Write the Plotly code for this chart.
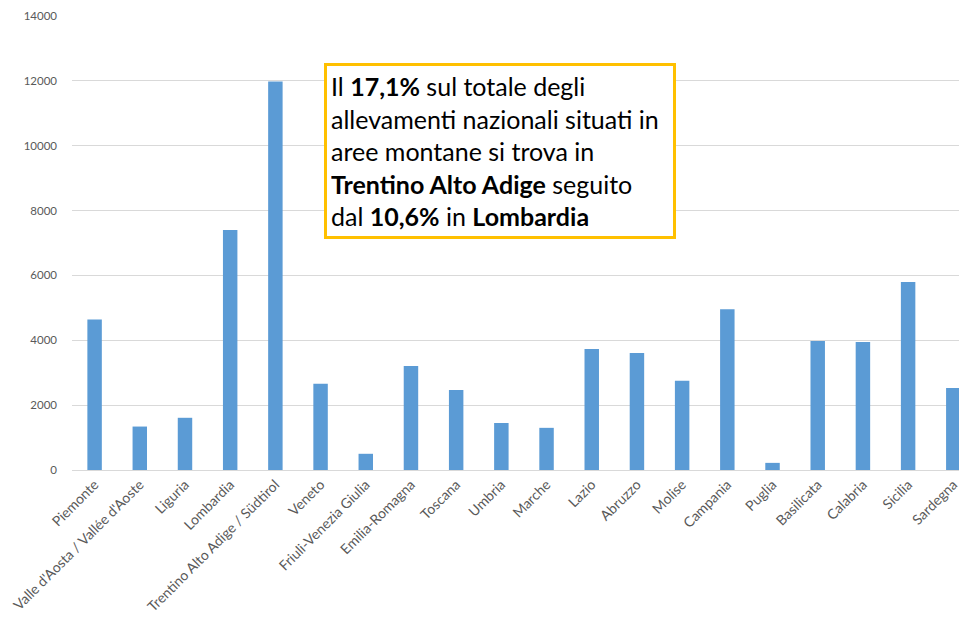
import plotly.graph_objects as go

regioni = [
    "Piemonte", "Valle d'Aosta / Vallée d'Aoste", "Liguria", "Lombardia",
    "Trentino Alto Adige / Südtirol", "Veneto", "Friuli-Venezia Giulia",
    "Emilia-Romagna", "Toscana", "Umbria", "Marche", "Lazio", "Abruzzo",
    "Molise", "Campania", "Puglia", "Basilicata", "Calabria", "Sicilia",
    "Sardegna",
]
allevamenti = [
    4640, 1340, 1610, 7400, 11980, 2660, 500, 3210, 2470, 1450,
    1300, 3730, 3610, 2750, 4960, 220, 3980, 3950, 5800, 2530,
]
y_ticks = [0, 2000, 4000, 6000, 8000, 10000, 12000, 14000]

testo = (
    "Il <b>17,1%</b> sul totale degli<br>"
    "allevamenti nazionali situati in<br>"
    "aree montane si trova in<br>"
    "<b>Trentino Alto Adige</b> seguito<br>"
    "dal <b>10,6%</b> in <b>Lombardia</b>"
)

fig = go.Figure(go.Bar(
    x=regioni,
    y=allevamenti,
    marker=dict(color="#5B9BD5", line=dict(width=0)),
))

# riquadro con il commento
fig.add_annotation(
    xref="paper", yref="paper",
    x=0.2795, y=0.8965,
    xanchor="left", yanchor="top",
    text=testo, showarrow=False, align="left",
    width=338, height=162,
    font=dict(family="Lato", size=25, color="#000000"),
    bordercolor="#FFC000", borderwidth=3, borderpad=4,
    bgcolor="white",
)

fig.update_layout(
    width=967, height=619,
    margin=dict(l=64, r=0, t=8, b=157),
    plot_bgcolor="white", paper_bgcolor="white",
    bargap=0.68,
    showlegend=False,
    font=dict(family="Lato", size=12, color="#595959"),
    xaxis=dict(
        tickangle=-45, showgrid=False, showline=True,
        linecolor="#d9d9d9", linewidth=1, ticks="",
        tickfont=dict(size=14), range=[-0.5, 19.48],
        automargin=False,
    ),
    yaxis=dict(
        range=[0, 14000], tickvals=y_ticks, tickformat="d",
        showgrid=True, gridcolor="#d9d9d9", gridwidth=1,
        zeroline=False, ticks="", ticklabelstandoff=14,
        tickfont=dict(size=11.5), automargin=False,
    ),
)

fig.write_html("out.html")
